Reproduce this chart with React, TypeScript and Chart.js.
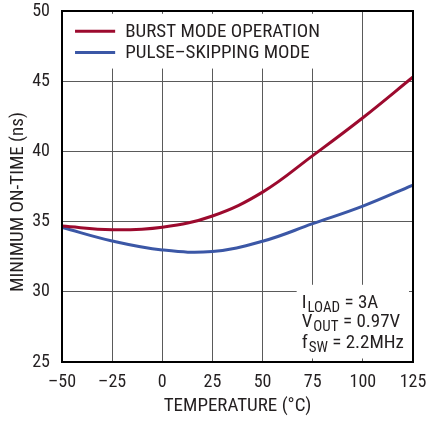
import React, { useEffect, useRef } from "react";
import { Chart, registerables } from "chart.js";

Chart.register(...registerables);

const temperatures = [-50, -25, 0, 25, 50, 75, 100, 125];
const burstMode = [34.68, 34.42, 34.6, 35.4, 37.1, 39.7, 42.4, 45.3];
const pulseSkipping = [34.58, 33.62, 32.98, 32.87, 33.6, 34.85, 36.1, 37.6];
const xTickLabels: Record<number, string> = {
  [-50]: "\u201350",
  [-25]: "\u201325",
  0: "0",
  25: "25",
  50: "50",
  75: "75",
  100: "100",
  125: "125",
};
const seriesLabels = ["BURST MODE OPERATION", "PULSE\u2013SKIPPING MODE"];
const seriesColors = ["#9c0a2e", "#3b57a6"];
const yTitle = "MINIMUM ON-TIME (ns)";
const xTitle = "TEMPERATURE (\u00B0C)";

const FONT = "'Roboto Condensed', 'Liberation Sans Narrow', sans-serif";
const TEXT = "#231f20";

const overlayPlugin = {
  id: "overlay",
  beforeDatasetsDraw(chart: any) {
    const ctx = chart.ctx as CanvasRenderingContext2D;
    const x = chart.scales.x;
    const y = chart.scales.y;
    ctx.save();
    // legend box
    ctx.fillStyle = "#ffffff";
    const lx0 = x.getPixelForValue(-48);
    ctx.fillRect(lx0, y.getPixelForValue(49.8), x.getPixelForValue(83) - lx0, y.getPixelForValue(45.9) - y.getPixelForValue(49.8));
    const rows = [48.55, 47.05];
    ctx.font = `19px ${FONT}`;
    ctx.textBaseline = "middle";
    ctx.textAlign = "left";
    rows.forEach((v, i) => {
      const py = y.getPixelForValue(v);
      ctx.strokeStyle = seriesColors[i];
      ctx.lineWidth = 3;
      ctx.beginPath();
      ctx.moveTo(x.getPixelForValue(-43.5), py);
      ctx.lineTo(x.getPixelForValue(-23.5), py);
      ctx.stroke();
      ctx.fillStyle = TEXT;
      ctx.fillText(seriesLabels[i], x.getPixelForValue(-18.5), py + 1);
    });
    // annotation box
    ctx.fillStyle = "#ffffff";
    const ax0 = x.getPixelForValue(67);
    const ay0 = y.getPixelForValue(30.5);
    ctx.fillRect(ax0, ay0, x.getPixelForValue(123) - ax0, y.getPixelForValue(25.25) - ay0);
    const tx = x.getPixelForValue(69.5);
    const lines: [string, string, string][] = [
      ["I", "LOAD", " = 3A"],
      ["V", "OUT", " = 0.97V"],
      ["f", "SW", " = 2.2MHz"],
    ];
    const baselines = [28.85, 27.5, 26.0];
    ctx.textBaseline = "alphabetic";
    ctx.fillStyle = TEXT;
    lines.forEach((ln, i) => {
      const by = y.getPixelForValue(baselines[i]);
      let cx = tx;
      ctx.font = `19px ${FONT}`;
      ctx.fillText(ln[0], cx, by);
      cx += ctx.measureText(ln[0]).width + 1;
      ctx.font = `15px ${FONT}`;
      ctx.fillText(ln[1], cx, by + 4);
      cx += ctx.measureText(ln[1]).width;
      ctx.font = `19px ${FONT}`;
      ctx.fillText(ln[2], cx, by);
    });
    ctx.restore();
  },
  afterDatasetsDraw(chart: any) {
    const ctx = chart.ctx as CanvasRenderingContext2D;
    const a = chart.chartArea;
    ctx.save();
    ctx.strokeStyle = "#000000";
    ctx.lineWidth = 2;
    ctx.strokeRect(a.left, a.top, a.right - a.left, a.bottom - a.top);
    // y axis title
    ctx.translate(18, 202);
    ctx.rotate(-Math.PI / 2);
    ctx.font = `19px ${FONT}`;
    ctx.fillStyle = TEXT;
    ctx.textAlign = "center";
    ctx.textBaseline = "middle";
    ctx.fillText(yTitle, 0, 0);
    ctx.restore();
  },
};

export default function App() {
  const ref = useRef<HTMLCanvasElement>(null);
  useEffect(() => {
    if (!ref.current) return;
    const chart = new Chart(ref.current, {
      type: "line",
      data: {
        datasets: [
          {
            label: seriesLabels[0],
            data: temperatures.map((t, i) => ({ x: t, y: burstMode[i] })),
            borderColor: seriesColors[0],
            borderWidth: 3,
            pointRadius: 0,
            tension: 0.4,
            fill: false,
          },
          {
            label: seriesLabels[1],
            data: temperatures.map((t, i) => ({ x: t, y: pulseSkipping[i] })),
            borderColor: seriesColors[1],
            borderWidth: 3,
            pointRadius: 0,
            tension: 0.4,
            fill: false,
          },
        ],
      },
      options: {
        animation: false,
        responsive: false,
        devicePixelRatio: 1,
        layout: { padding: { left: 0, top: 11, right: 14, bottom: 0 } },
        plugins: { legend: { display: false }, tooltip: { enabled: false } },
        scales: {
          x: {
            type: "linear",
            min: -50,
            max: 125,
            afterBuildTicks: (s: any) => {
              s.ticks = temperatures.map((v) => ({ value: v }));
            },
            afterFit: (s: any) => {
              s.height = 59;
              s.paddingLeft = 0;
              s.paddingRight = 0;
            },
            ticks: {
              callback: (v: any) => xTickLabels[v as number] ?? String(v),
              font: { family: FONT, size: 18 },
              color: TEXT,
              padding: 10,
              maxRotation: 0,
              autoSkip: false,
            },
            grid: { color: "#5a5a5a", lineWidth: 1, drawTicks: false },
            border: { display: false },
            title: {
              display: true,
              text: xTitle,
              font: { family: FONT, size: 19 },
              color: TEXT,
              padding: { top: 0, bottom: 3 },
            },
          },
          y: {
            type: "linear",
            min: 25,
            max: 50,
            ticks: {
              stepSize: 5,
              font: { family: FONT, size: 18 },
              color: TEXT,
              padding: 12,
            },
            afterFit: (s: any) => {
              s.width = 62;
              s.paddingTop = 0;
              s.paddingBottom = 0;
            },
            grid: { color: "#5a5a5a", lineWidth: 1, drawTicks: false },
            border: { display: false },
            title: { display: false },
          },
        },
      },
      plugins: [overlayPlugin],
    } as any);
    return () => chart.destroy();
  }, []);
  return (
    <div style={{ position: "fixed", left: 0, top: 0, width: 427, height: 421, background: "#fff" }}>
      <canvas ref={ref} width={427} height={421} style={{ width: 427, height: 421, display: "block" }} />
    </div>
  );
}
